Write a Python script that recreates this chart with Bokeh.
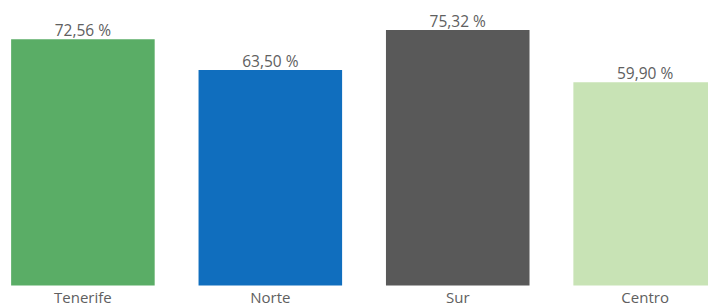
from bokeh.plotting import figure
from bokeh.models import Range1d, ColumnDataSource
from bokeh.core.properties import value
from bokeh.embed import file_html
from bokeh.resources import INLINE

categories = ["Tenerife", "Norte", "Sur", "Centro"]
values = [72.56, 63.50, 75.32, 59.90]
value_labels = ["72,56 %", "63,50 %", "75,32 %", "59,90 %"]
colors = ["#5AAD66", "#106EBE", "#595959", "#C8E3B5"]

xs = list(range(len(categories)))
src = ColumnDataSource(dict(x=xs, top=values, cat=categories, lab=value_labels,
                            color=colors))

p = figure(width=708, height=307, output_backend="svg", toolbar_location=None,
           x_range=Range1d(-0.4397, 3.338), y_range=Range1d(-6.5, 84.0),
           min_border=0, min_border_left=0, min_border_right=0,
           min_border_top=0, min_border_bottom=0)
p.axis.visible = False
p.grid.visible = False
p.outline_line_color = None
p.background_fill_color = "white"
p.border_fill_color = "white"

p.vbar(x="x", top="top", bottom=0, width=0.766, fill_color="color",
       line_color=None, source=src)

p.text(x="x", y="top", text="lab", source=src, text_align="center",
       text_baseline="middle", y_offset=-9, text_font=value("Open Sans"),
       text_font_size="15.5px", text_color="#606060")

p.text(x="x", y=0, text="cat", source=src, text_align="center",
       text_baseline="top", y_offset=2, text_font=value("Open Sans"),
       text_font_size="15px", text_color="#606060")

open("out.html", "w").write(file_html(p, INLINE))
